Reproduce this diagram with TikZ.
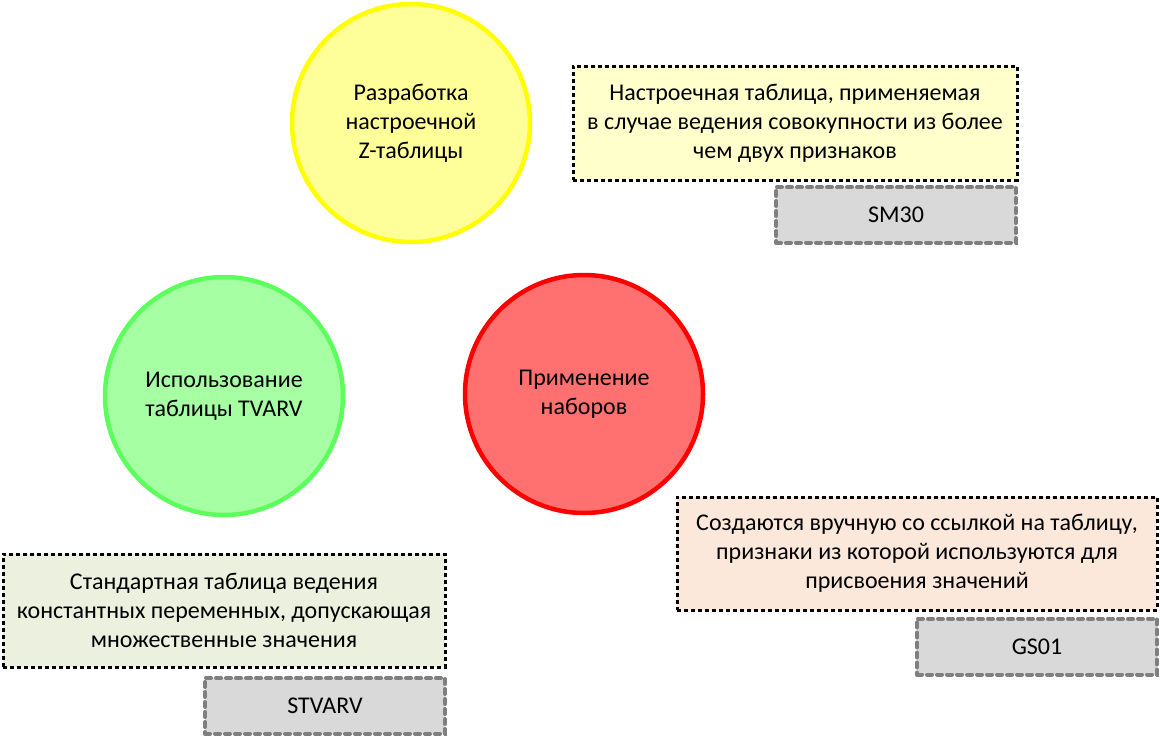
\documentclass[tikz,border=0pt]{standalone}
\usepackage{fontspec}
\setmainfont{Carlito}
\definecolor{ylwfill}{HTML}{FFFF99}
\definecolor{ylwline}{HTML}{FFFF00}
\definecolor{grnfill}{HTML}{A6FFA2}
\definecolor{grnline}{HTML}{5CFF5C}
\definecolor{redfill}{HTML}{FF7070}
\definecolor{redline}{HTML}{FF0000}
\definecolor{noteyl}{HTML}{FFFFCC}
\definecolor{notegr}{HTML}{EBF1DE}
\definecolor{noteor}{HTML}{FBE8DA}
\definecolor{codefill}{HTML}{D9D9D9}
\definecolor{codeline}{HTML}{7F7F7F}
\tikzset{
  txt/.style={font=\fontsize{24}{29}\selectfont, align=center, text=black},
  bubble/.style={txt, circle, inner sep=0pt, minimum size=238pt, line width=4.5pt},
  note/.style={txt, rectangle, inner sep=0pt, draw=black, line width=3pt,
    dash pattern=on 4pt off 3pt},
  codebox/.style={txt, rectangle, inner sep=0pt, draw=codeline, fill=codefill,
    line width=4pt, line cap=round, dash pattern=on 5pt off 5pt,
    minimum width=240pt, minimum height=56pt},
}
\begin{document}
\begin{tikzpicture}[x=1pt,y=-1pt]
\useasboundingbox (0,0) rectangle (1160,736);
\node[bubble, fill=ylwfill, draw=ylwline] (zt) at (411,123) {Разработка\\настроечной\\Z-таблицы};
\node[bubble, fill=grnfill, draw=grnline] (tv) at (224,396) {Использование\\таблицы TVARV};
\node[bubble, fill=redfill, draw=redline] (sets) at (584,394) {Применение\\наборов};

\node[note, fill=noteyl, minimum width=444pt, minimum height=114pt] (n1) at (795,123)
  {Настроечная таблица, применяемая\\в случае ведения совокупности из более\\чем двух признаков};
\node[codebox] (c1) at (896,215) {SM30};

\node[note, fill=notegr, minimum width=442pt, minimum height=113pt] (n2) at (224,610.5)
  {Стандартная таблица ведения\\константных переменных, допускающая\\множественные значения};
\node[codebox] (c2) at (325,706) {STVARV};

\node[note, fill=noteor, minimum width=480pt, minimum height=113pt] (n3) at (917,553.5)
  {Создаются вручную со ссылкой на таблицу,\\признаки из которой используются для\\присвоения значений};
\node[codebox] (c3) at (1037,646.5) {GS01};
\end{tikzpicture}
\end{document}
